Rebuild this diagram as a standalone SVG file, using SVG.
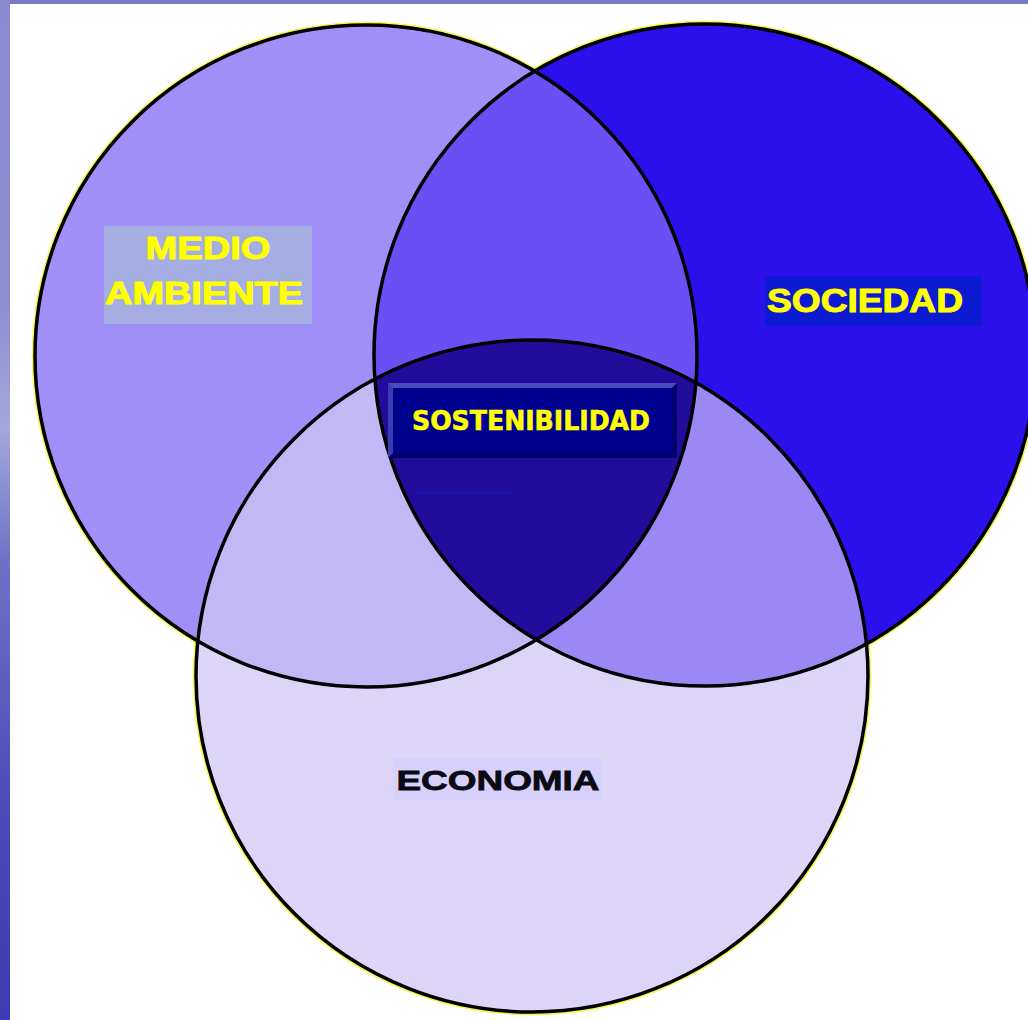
<svg xmlns="http://www.w3.org/2000/svg" width="1028" height="1020" viewBox="0 0 1028 1020">
  <defs>
    <linearGradient id="sideGrad" x1="0" y1="0" x2="0" y2="1">
      <stop offset="0" stop-color="#8a8ad2"/>
      <stop offset="0.3" stop-color="#8c8ed0"/>
      <stop offset="0.42" stop-color="#a2a8da"/>
      <stop offset="0.55" stop-color="#6e72c6"/>
      <stop offset="0.8" stop-color="#4a4ab8"/>
      <stop offset="1" stop-color="#3c3cb4"/>
    </linearGradient>
    <clipPath id="clipL"><circle cx="366" cy="356" r="331"/></clipPath>
    <clipPath id="clipR"><circle cx="705" cy="355" r="331"/></clipPath>
    <clipPath id="clipB"><circle cx="532" cy="676" r="336"/></clipPath>
    <style>
      .outline { fill: none; stroke: #000; stroke-width: 3.5; }
      .fringe { fill: none; stroke: #f2f200; stroke-width: 6.5; stroke-opacity: 0.7; }
      .label { font-family: "Liberation Sans", Arial, sans-serif; font-weight: bold; }
      .yellow { fill: #ffff00; stroke: #ffff00; stroke-width: 1; }
    </style>
  </defs>

  <rect x="0" y="0" width="1028" height="1020" fill="#ffffff"/>
  <rect x="0" y="0" width="1028" height="4" fill="#7a7ac8"/>
  <rect x="0" y="0" width="10" height="1020" fill="url(#sideGrad)"/>

  <g id="fringes">
    <circle class="fringe" cx="366" cy="356" r="331"/>
    <circle class="fringe" cx="705" cy="355" r="331"/>
    <circle class="fringe" cx="532" cy="676" r="336"/>
  </g>

  <g id="medio-ambiente-circle">
    <circle cx="366" cy="356" r="331" fill="#a08ff6"/>
  </g>
  <g id="sociedad-circle">
    <circle cx="705" cy="355" r="331" fill="#2c10ec"/>
  </g>
  <g id="economia-circle">
    <circle cx="532" cy="676" r="336" fill="#dcd5f8"/>
  </g>

  <g id="overlaps">
    <circle cx="705" cy="355" r="331" fill="#6a4ff5" clip-path="url(#clipL)"/>
    <circle cx="532" cy="676" r="336" fill="#c3b8f6" clip-path="url(#clipL)"/>
    <circle cx="532" cy="676" r="336" fill="#9b88f4" clip-path="url(#clipR)"/>
    <g clip-path="url(#clipR)">
      <circle cx="532" cy="676" r="336" fill="#220c9c" clip-path="url(#clipL)"/>
    </g>
  </g>

  <g id="outlines">
    <circle class="outline" cx="366" cy="356" r="331"/>
    <circle class="outline" cx="705" cy="355" r="331"/>
    <circle class="outline" cx="532" cy="676" r="336"/>
  </g>

  <line x1="416" y1="493" x2="512" y2="493" stroke="#1a14c8" stroke-width="1.5"/>

  <g id="medio-ambiente-label">
    <rect x="104" y="226" width="208" height="98" fill="#a4aee2"/>
    <text class="label yellow" x="208" y="259" font-size="32" text-anchor="middle" textLength="125" lengthAdjust="spacingAndGlyphs">MEDIO</text>
    <text class="label yellow" x="204" y="304" font-size="32" text-anchor="middle" textLength="198" lengthAdjust="spacingAndGlyphs">AMBIENTE</text>
  </g>

  <g id="sociedad-label">
    <rect x="765" y="276" width="217" height="50" fill="#0c1ad2"/>
    <text class="label yellow" x="865" y="312" font-size="34" text-anchor="middle" textLength="196" lengthAdjust="spacingAndGlyphs">SOCIEDAD</text>
  </g>

  <g id="sostenibilidad-label">
    <rect x="388" y="383" width="289" height="75" fill="#2a2aa0"/>
    <polygon points="388,383 677,383 672,388 393,388" fill="#4a4abe"/>
    <polygon points="388,383 393,388 393,453 388,458" fill="#3c3cb2"/>
    <polygon points="677,383 677,458 672,453 672,388" fill="#000070"/>
    <polygon points="388,458 677,458 672,453 393,453" fill="#000068"/>
    <rect x="393" y="388" width="279" height="65" fill="#00008e"/>
    <text x="531" y="430" font-family="'DejaVu Sans', Verdana, sans-serif" font-weight="bold" font-size="26" fill="#ffff00" stroke="#ffff00" stroke-width="0.6" text-anchor="middle" textLength="238" lengthAdjust="spacingAndGlyphs">SOSTENIBILIDAD</text>
  </g>

  <g id="economia-label">
    <rect x="393" y="758" width="209" height="42" fill="#d6d0fa"/>
    <text class="label" x="498" y="790" font-size="28" fill="#0a0a14" stroke="#0a0a14" stroke-width="0.8" text-anchor="middle" textLength="203" lengthAdjust="spacingAndGlyphs">ECONOMIA</text>
  </g>
</svg>
